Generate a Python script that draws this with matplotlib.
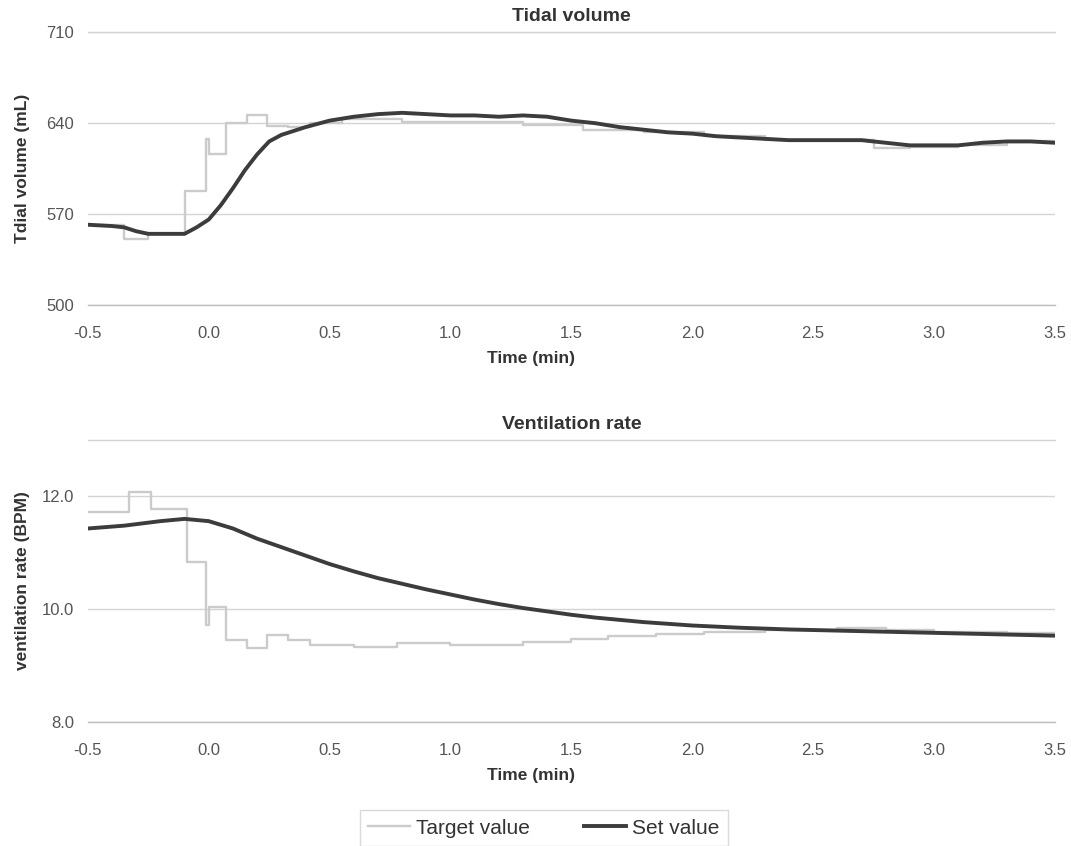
import matplotlib

matplotlib.use("Agg")
import matplotlib.pyplot as plt
from matplotlib.ticker import FixedLocator, FormatStrFormatter

plt.rcParams["font.family"] = ["Liberation Sans", "DejaVu Sans"]
plt.rcParams["axes.unicode_minus"] = False

# --- tidal volume (mL) ---
tv_set_t = [-0.5, -0.4, -0.35, -0.3, -0.25, -0.2, -0.1, -0.05, 0.0, 0.05, 0.1,
            0.15, 0.2, 0.25, 0.3, 0.4, 0.5, 0.6, 0.7, 0.8, 0.9, 1.0, 1.1, 1.2,
            1.3, 1.4, 1.5, 1.6, 1.7, 1.8, 1.9, 2.0, 2.1, 2.2, 2.3, 2.4, 2.5,
            2.6, 2.7, 2.8, 2.9, 3.0, 3.1, 3.2, 3.3, 3.4, 3.5]
tv_set = [562, 561, 560, 557, 555, 555, 555, 560, 566, 577, 590,
          604, 616, 626, 631, 637, 642, 645, 647, 648, 647, 646, 646, 645,
          646, 645, 642, 640, 637, 635, 633, 632, 630, 629, 628, 627, 627,
          627, 627, 625, 623, 623, 623, 625, 626, 626, 625]

tv_target_t = [-0.5, -0.35, -0.25, -0.1, -0.01, 0.0, 0.07, 0.16, 0.24, 0.33,
               0.42, 0.55, 0.8, 1.0, 1.3, 1.55, 1.8, 2.05, 2.3, 2.5, 2.75,
               2.9, 3.1, 3.3, 3.5]
tv_target = [562, 551, 555, 588, 628, 616, 640, 646, 638, 637,
             640, 643, 641, 641, 639, 635, 633, 630, 627, 627, 621,
             622, 623, 626, 626]

# --- ventilation rate (BPM) ---
vr_set_t = [-0.5, -0.35, -0.2, -0.1, 0.0, 0.1, 0.2, 0.3, 0.4, 0.5, 0.6, 0.7,
            0.8, 0.9, 1.0, 1.1, 1.2, 1.3, 1.4, 1.5, 1.6, 1.7, 1.8, 1.9, 2.0,
            2.2, 2.4, 2.6, 2.8, 3.0, 3.2, 3.4, 3.5]
vr_set = [11.43, 11.48, 11.56, 11.6, 11.56, 11.43, 11.25, 11.1, 10.95, 10.8,
          10.67, 10.55, 10.45, 10.35, 10.26, 10.17, 10.09, 10.02, 9.96, 9.9,
          9.85, 9.81, 9.77, 9.74, 9.71, 9.67, 9.64, 9.62, 9.6, 9.58, 9.56,
          9.54, 9.53]

vr_target_t = [-0.5, -0.33, -0.24, -0.09, -0.01, 0.0, 0.07, 0.16, 0.24, 0.33,
               0.42, 0.6, 0.78, 1.0, 1.3, 1.5, 1.65, 1.85, 2.05, 2.3, 2.6,
               2.8, 3.0, 3.3, 3.5]
vr_target = [11.72, 12.07, 11.77, 10.83, 9.72, 10.04, 9.46, 9.32, 9.55, 9.46,
             9.37, 9.33, 9.4, 9.36, 9.42, 9.47, 9.52, 9.56, 9.6, 9.63, 9.66,
             9.63, 9.6, 9.57, 9.57]

x_ticks = [-0.5, 0.0, 0.5, 1.0, 1.5, 2.0, 2.5, 3.0, 3.5]

DARK = "#3c3c3c"
LIGHT = "#cbcbcb"
GRID = "#d4d4d4"
TICK = "#555555"
TEXT = "#333333"


def style_axes(ax, title, ylabel, ylim, yticks, yfmt):
    ax.set_xlim(-0.5, 3.5)
    ax.set_ylim(*ylim)
    ax.xaxis.set_major_locator(FixedLocator(x_ticks))
    ax.xaxis.set_major_formatter(FormatStrFormatter("%.1f"))
    ax.yaxis.set_major_locator(FixedLocator(yticks))
    ax.yaxis.set_major_formatter(FormatStrFormatter(yfmt))
    for s in ("left", "right", "top"):
        ax.spines[s].set_visible(False)
    ax.spines["bottom"].set_color("#bdbdbd")
    ax.spines["bottom"].set_linewidth(1.0)
    ax.grid(axis="y", color=GRID, lw=1.0)
    ax.axhline(ylim[1], color=GRID, lw=1.0, clip_on=False, zorder=0)
    ax.set_axisbelow(True)
    ax.tick_params(length=0, labelsize=12, labelcolor=TICK)
    ax.tick_params(axis="x", pad=15)
    ax.tick_params(axis="y", pad=10)
    ax.set_title(title, fontsize=14, fontweight="bold", color=TEXT, pad=8)
    ax.set_ylabel(ylabel, fontsize=12.5, fontweight="bold", color=TEXT)
    ax.set_xlabel("Time (min)", fontsize=12.5, fontweight="bold", color=TEXT)
    ax.yaxis.label.set_va("center")


fig = plt.figure(figsize=(10.71, 8.46), dpi=100)
ax1 = fig.add_axes([0.082, 0.639, 0.903, 0.323])
ax2 = fig.add_axes([0.082, 0.1466, 0.903, 0.3334])

ax1.plot(tv_target_t, tv_target, drawstyle="steps-post", color=LIGHT, lw=1.7,
         label="Target value")
ax1.plot(tv_set_t, tv_set, color=DARK, lw=2.8, label="Set value")
style_axes(ax1, "Tidal volume", "Tdial volume (mL)", (500, 710),
           [500, 570, 640, 710], "%d")
ax1.xaxis.set_label_coords(0.458, -0.168)
ax1.yaxis.set_label_coords(-0.068, 0.5)

ax2.plot(vr_target_t, vr_target, drawstyle="steps-post", color=LIGHT, lw=1.7)
ax2.plot(vr_set_t, vr_set, color=DARK, lw=2.8)
style_axes(ax2, "Ventilation rate", "ventilation rate (BPM)", (8.0, 13.0),
           [8.0, 10.0, 12.0], "%.1f")
ax2.xaxis.set_label_coords(0.458, -0.163)
ax2.yaxis.set_label_coords(-0.068, 0.5)

leg = fig.legend(loc="center", bbox_to_anchor=(0.508, 0.021), ncol=2,
                 frameon=True, fontsize=15, handlelength=2.0,
                 handletextpad=0.3, columnspacing=2.6,
                 borderpad=0.4, borderaxespad=0.0, fancybox=False)
leg.get_frame().set_edgecolor("#d0d0d0")
for t in leg.get_texts():
    t.set_color(TEXT)

fig.savefig("out.png", dpi=100)
